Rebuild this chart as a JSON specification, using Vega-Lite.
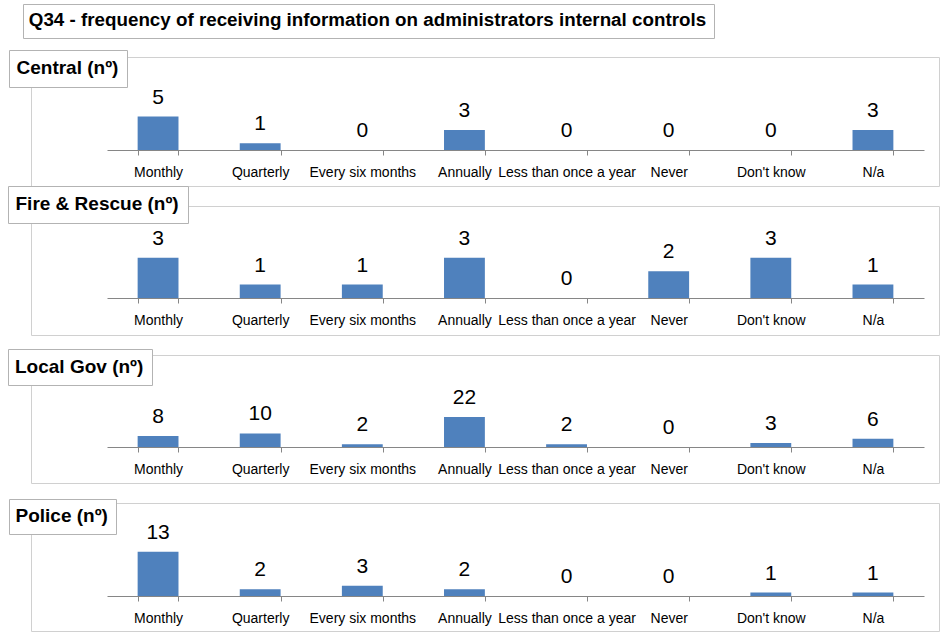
{
  "$schema": "https://vega.github.io/schema/vega-lite/v6.json",
  "background": "white",
  "padding": {"left": 7, "top": 3, "right": 0, "bottom": 0},
  "config": {
    "view": {"stroke": "#d0d0d0", "strokeWidth": 1},
    "font": "Liberation Sans",
    "axisX": {"title": null, "labelFont": "Liberation Sans", "labelFontSize": 14, "labelColor": "#000000", "labelAngle": 0, "labelPadding": 10, "labelOverlap": false, "labelBound": false, "labelLimit": 300, "domainColor": "#868686", "tickColor": "#868686", "tickSize": 5, "tickBand": "extent", "grid": false},
    "legend": {"orient": "none", "title": null, "symbolSize": 0, "symbolOpacity": 0, "symbolStrokeWidth": 0, "labelOffset": -20, "labelFont": "Liberation Sans", "labelFontWeight": "bold", "labelFontSize": 19, "labelColor": "#000000", "labelLimit": 1000, "strokeColor": "#b3b3b3", "fillColor": "white", "padding": 9, "cornerRadius": 0}
  },
  "data": {"values": [
    {"panel": "Central (nº)", "cat": "Monthly", "n": 5},
    {"panel": "Central (nº)", "cat": "Quarterly", "n": 1},
    {"panel": "Central (nº)", "cat": "Every six months", "n": 0},
    {"panel": "Central (nº)", "cat": "Annually", "n": 3},
    {"panel": "Central (nº)", "cat": "Less than once a year", "n": 0},
    {"panel": "Central (nº)", "cat": "Never", "n": 0},
    {"panel": "Central (nº)", "cat": "Don't know", "n": 0},
    {"panel": "Central (nº)", "cat": "N/a", "n": 3},
    {"panel": "Fire & Rescue (nº)", "cat": "Monthly", "n": 3},
    {"panel": "Fire & Rescue (nº)", "cat": "Quarterly", "n": 1},
    {"panel": "Fire & Rescue (nº)", "cat": "Every six months", "n": 1},
    {"panel": "Fire & Rescue (nº)", "cat": "Annually", "n": 3},
    {"panel": "Fire & Rescue (nº)", "cat": "Less than once a year", "n": 0},
    {"panel": "Fire & Rescue (nº)", "cat": "Never", "n": 2},
    {"panel": "Fire & Rescue (nº)", "cat": "Don't know", "n": 3},
    {"panel": "Fire & Rescue (nº)", "cat": "N/a", "n": 1},
    {"panel": "Local Gov (nº)", "cat": "Monthly", "n": 8},
    {"panel": "Local Gov (nº)", "cat": "Quarterly", "n": 10},
    {"panel": "Local Gov (nº)", "cat": "Every six months", "n": 2},
    {"panel": "Local Gov (nº)", "cat": "Annually", "n": 22},
    {"panel": "Local Gov (nº)", "cat": "Less than once a year", "n": 2},
    {"panel": "Local Gov (nº)", "cat": "Never", "n": 0},
    {"panel": "Local Gov (nº)", "cat": "Don't know", "n": 3},
    {"panel": "Local Gov (nº)", "cat": "N/a", "n": 6},
    {"panel": "Police (nº)", "cat": "Monthly", "n": 13},
    {"panel": "Police (nº)", "cat": "Quarterly", "n": 2},
    {"panel": "Police (nº)", "cat": "Every six months", "n": 3},
    {"panel": "Police (nº)", "cat": "Annually", "n": 2},
    {"panel": "Police (nº)", "cat": "Less than once a year", "n": 0},
    {"panel": "Police (nº)", "cat": "Never", "n": 0},
    {"panel": "Police (nº)", "cat": "Don't know", "n": 1},
    {"panel": "Police (nº)", "cat": "N/a", "n": 1}
  ]},
  "spacing": 12,
  "resolve": {"scale": {"x": "independent", "y": "independent", "color": "independent"}},
  "vconcat": [
    {
      "spacing": -2,
      "resolve": {"scale": {"x": "independent", "y": "independent", "color": "independent"}},
      "vconcat": [
        {
          "width": 908, "height": 129,
          "transform": [{"filter": {"field": "panel", "equal": "Central (nº)"}}],
          "encoding": {
            "x": {"field": "cat", "type": "nominal", "sort": null, "scale": {"range": [76, 893], "paddingInner": 0.6, "paddingOuter": 0.3}, "axis": {"offset": -36}},
            "y": {"field": "n", "type": "quantitative", "scale": {"domain": [-5.373, 13.881], "nice": false}, "axis": null}
          },
          "resolve": {"scale": {"color": "independent"}},
          "layer": [
            {"mark": {"type": "bar"}, "encoding": {"color": {"field": "panel", "type": "nominal", "scale": {"range": ["#4f81bd"]}, "legend": {"orient": "none", "legendX": -22, "legendY": -7, "padding": 8.5}}}},
            {"mark": {"type": "text", "dy": -19, "fontSize": 21, "baseline": "middle", "font": "Liberation Sans"}, "encoding": {"text": {"field": "n", "type": "quantitative"}, "color": {"datum": "Q34 - frequency of receiving information on administrators internal controls", "type": "nominal", "scale": {"range": ["#000000"]}, "legend": {"orient": "none", "legendX": -8, "legendY": -53, "padding": 7, "labelFontSize": 18.8}}}}
          ]
        },
        {
          "width": 908, "height": 129,
          "transform": [{"filter": {"field": "panel", "equal": "Fire & Rescue (nº)"}}],
          "encoding": {
            "x": {"field": "cat", "type": "nominal", "sort": null, "scale": {"range": [76, 893], "paddingInner": 0.6, "paddingOuter": 0.3}, "axis": {"offset": -37}},
            "y": {"field": "n", "type": "quantitative", "scale": {"domain": [-2.761, 6.866], "nice": false}, "axis": null}
          },
          "layer": [
            {"mark": {"type": "bar"}, "encoding": {"color": {"field": "panel", "type": "nominal", "scale": {"range": ["#4f81bd"]}, "legend": {"orient": "none", "legendX": -23, "legendY": -20, "padding": 8.5}}}},
            {"mark": {"type": "text", "dy": -19, "fontSize": 21, "baseline": "middle", "font": "Liberation Sans", "color": "#000000"}, "encoding": {"text": {"field": "n", "type": "quantitative"}}}
          ]
        }
      ]
    },
    {
      "spacing": 14,
      "resolve": {"scale": {"x": "independent", "y": "independent", "color": "independent"}},
      "vconcat": [
        {
          "width": 908, "height": 128,
          "transform": [{"filter": {"field": "panel", "equal": "Local Gov (nº)"}}],
          "encoding": {
            "x": {"field": "cat", "type": "nominal", "sort": null, "scale": {"range": [76, 893], "paddingInner": 0.6, "paddingOuter": 0.3}, "axis": {"offset": -36}},
            "y": {"field": "n", "type": "quantitative", "scale": {"domain": [-26.47, 67.65], "nice": false}, "axis": null}
          },
          "layer": [
            {"mark": {"type": "bar"}, "encoding": {"color": {"field": "panel", "type": "nominal", "scale": {"range": ["#4f81bd"]}, "legend": {"orient": "none", "legendX": -23, "legendY": -6, "padding": 8}}}},
            {"mark": {"type": "text", "dy": -19, "fontSize": 21, "baseline": "middle", "font": "Liberation Sans", "color": "#000000"}, "encoding": {"text": {"field": "n", "type": "quantitative"}}}
          ]
        },
        {
          "width": 908, "height": 128,
          "transform": [{"filter": {"field": "panel", "equal": "Police (nº)"}}],
          "encoding": {
            "x": {"field": "cat", "type": "nominal", "sort": null, "scale": {"range": [76, 893], "paddingInner": 0.6, "paddingOuter": 0.3}, "axis": {"offset": -35}},
            "y": {"field": "n", "type": "quantitative", "scale": {"domain": [-10.29, 27.35], "nice": false}, "axis": null}
          },
          "layer": [
            {"mark": {"type": "bar"}, "encoding": {"color": {"field": "panel", "type": "nominal", "scale": {"range": ["#4f81bd"]}, "legend": {"orient": "none", "legendX": -22, "legendY": -4, "padding": 7.5}}}},
            {"mark": {"type": "text", "dy": -19, "fontSize": 21, "baseline": "middle", "font": "Liberation Sans", "color": "#000000"}, "encoding": {"text": {"field": "n", "type": "quantitative"}}}
          ]
        }
      ]
    }
  ]
}
